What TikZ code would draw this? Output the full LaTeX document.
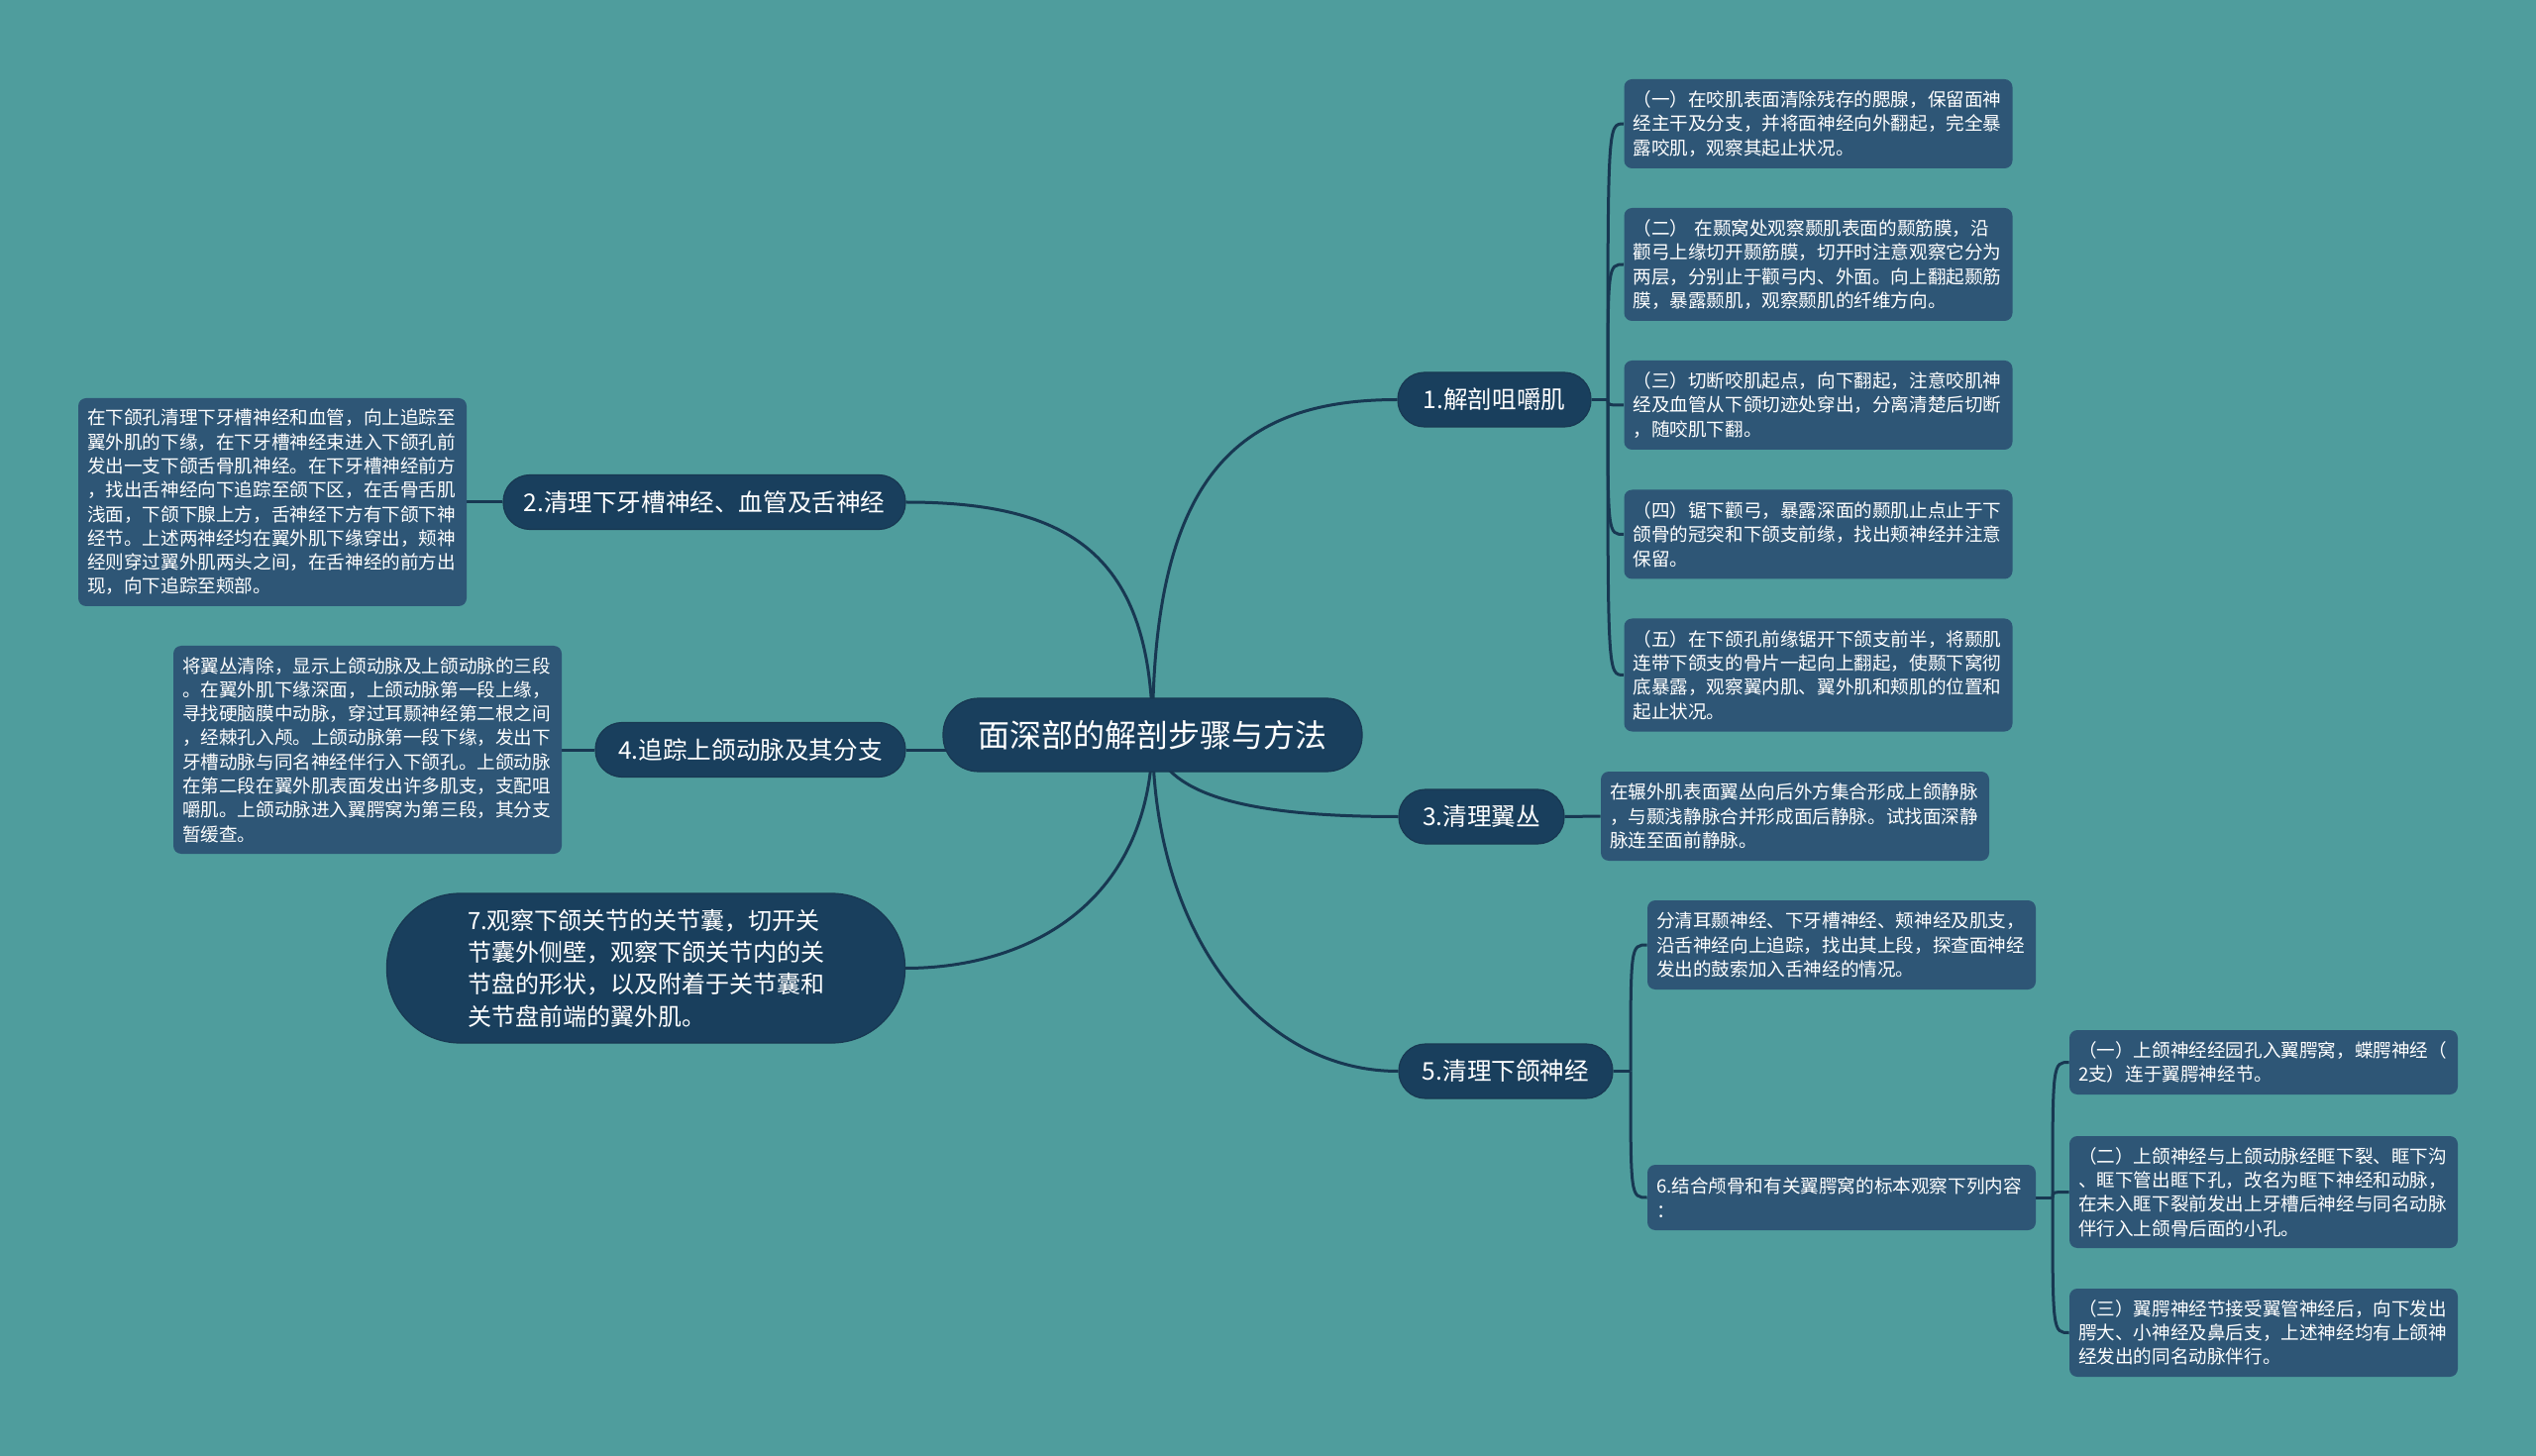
\documentclass[tikz,border=0pt]{standalone}
\usepackage{fontspec}
\setmainfont{Noto Sans CJK SC}
\usetikzlibrary{backgrounds}
\definecolor{bgc}{RGB}{79,157,157}
\definecolor{boxc}{RGB}{46,86,118}
\definecolor{nodec}{RGB}{25,63,93}
\definecolor{linec}{RGB}{24,56,82}
\begin{document}
\begin{tikzpicture}[x=0.5pt,y=-0.5pt,
  mainnode/.style={fill=nodec, draw=linec, line width=0.6pt, text=white, inner sep=0pt, align=center, font=\fontsize{12.3}{16}\selectfont, minimum height=27.5pt, rounded corners=13.5pt},
  rootnode/.style={fill=nodec, draw=linec, line width=0.6pt, text=white, inner sep=0pt, font=\fontsize{16}{20}\selectfont, minimum width=211.5pt, minimum height=37pt, rounded corners=18pt},
  tbox/.style={fill=boxc, text=white, rounded corners=4pt, align=left, text width=187pt, inner xsep=4.5pt, inner ysep=0pt, font=\fontsize{9.3}{12.15}\selectfont},
  conn/.style={draw=linec, line width=1.5pt}]
\useasboundingbox (0,0) rectangle (2560,1470);

% root and main nodes
\node[rootnode] (root) at (1163.5,742) {面深部的解剖步骤与方法};
\node[mainnode, minimum width=97.5pt] (n1) at (1508.5,403.5) {1.解剖咀嚼肌};
\node[mainnode, minimum width=203pt] (n2) at (711,507) {2.清理下牙槽神经、血管及舌神经};
\node[mainnode, minimum width=83.5pt] (n3) at (1495.5,824.5) {3.清理翼丛};
\node[mainnode, minimum width=156.5pt] (n4) at (757.5,757) {4.追踪上颌动脉及其分支};
\node[mainnode, minimum width=108pt] (n5) at (1520,1081.5) {5.清理下颌神经};
\node[mainnode, minimum width=261.5pt, minimum height=75.5pt, rounded corners=37pt, align=left, font=\fontsize{12}{16.2}\selectfont] (n7) at (652,977.5) {7.观察下颌关节的关节囊，切开关\\节囊外侧壁，观察下颌关节内的关\\节盘的形状，以及附着于关节囊和\\关节盘前端的翼外肌。};

% text boxes of 1
\node[tbox, minimum height=45pt] (r1a) at (1835.5,125) {（一）在咬肌表面清除残存的腮腺，保留面神\\经主干及分支，并将面神经向外翻起，完全暴\\露咬肌，观察其起止状况。};
\node[tbox, minimum height=57pt] (r1b) at (1835.5,267) {（二）~在颞窝处观察颞肌表面的颞筋膜，沿\\颧弓上缘切开颞筋膜，切开时注意观察它分为\\两层，分别止于颧弓内、外面。向上翻起颞筋\\膜，暴露颞肌，观察颞肌的纤维方向。};
\node[tbox, minimum height=45pt] (r1c) at (1835.5,409) {（三）切断咬肌起点，向下翻起，注意咬肌神\\经及血管从下颌切迹处穿出，分离清楚后切断\\，随咬肌下翻。};
\node[tbox, minimum height=45pt] (r1d) at (1835.5,539.5) {（四）锯下颧弓，暴露深面的颞肌止点止于下\\颌骨的冠突和下颌支前缘，找出颊神经并注意\\保留。};
\node[tbox, minimum height=57pt] (r1e) at (1835.5,681.5) {（五）在下颌孔前缘锯开下颌支前半，将颞肌\\连带下颌支的骨片一起向上翻起，使颞下窝彻\\底暴露，观察翼内肌、翼外肌和颊肌的位置和\\起止状况。};

% text box of 3
\node[tbox, minimum height=45pt] (r3) at (1812,824) {在辗外肌表面翼丛向后外方集合形成上颌静脉\\，与颞浅静脉合并形成面后静脉。试找面深静\\脉连至面前静脉。};

% text boxes of 5
\node[tbox, minimum height=45pt] (r5a) at (1859,954) {分清耳颞神经、下牙槽神经、颊神经及肌支，\\沿舌神经向上追踪，找出其上段，探查面神经\\发出的鼓索加入舌神经的情况。};
\node[tbox, minimum height=33pt] (r6) at (1859,1209) {6.结合颅骨和有关翼腭窝的标本观察下列内容\\：};
\node[tbox, minimum height=32.5pt] (r6a) at (2285,1072.5) {（一）上颌神经经园孔入翼腭窝，蝶腭神经（\\2支）连于翼腭神经节。};
\node[tbox, minimum height=56.5pt] (r6b) at (2285,1203.5) {（二）上颌神经与上颌动脉经眶下裂、眶下沟\\、眶下管出眶下孔，改名为眶下神经和动脉，\\在未入眶下裂前发出上牙槽后神经与同名动脉\\伴行入上颌骨后面的小孔。};
\node[tbox, minimum height=44.5pt] (r6c) at (2285,1345.5) {（三）翼腭神经节接受翼管神经后，向下发出\\腭大、小神经及鼻后支，上述神经均有上颌神\\经发出的同名动脉伴行。};

% left text boxes
\node[tbox, minimum height=105pt] (l2) at (275,507) {在下颌孔清理下牙槽神经和血管，向上追踪至\\翼外肌的下缘，在下牙槽神经束进入下颌孔前\\发出一支下颌舌骨肌神经。在下牙槽神经前方\\，找出舌神经向下追踪至颌下区，在舌骨舌肌\\浅面，下颌下腺上方，舌神经下方有下颌下神\\经节。上述两神经均在翼外肌下缘穿出，颊神\\经则穿过翼外肌两头之间，在舌神经的前方出\\现，向下追踪至颊部。};
\node[tbox, minimum height=105pt] (l4) at (371,757) {将翼丛清除，显示上颌动脉及上颌动脉的三段\\。在翼外肌下缘深面，上颌动脉第一段上缘，\\寻找硬脑膜中动脉，穿过耳颞神经第二根之间\\，经棘孔入颅。上颌动脉第一段下缘，发出下\\牙槽动脉与同名神经伴行入下颌孔。上颌动脉\\在第二段在翼外肌表面发出许多肌支，支配咀\\嚼肌。上颌动脉进入翼腭窝为第三段，其分支\\暂缓查。};

\coordinate (t1) at (1623,403.5);
\coordinate (t5) at (1646,1081.5);
\coordinate (t6) at (2072,1209);
\coordinate (r4) at (1163,757);

\begin{scope}[on background layer]
\fill[bgc] (0,0) rectangle (2560,1470);
% root connectors
\draw[conn] (root.center) .. controls (1163,480) and (1250,403.5) .. (n1.west);
\draw[conn] (root.center) .. controls (1163,560) and (1080,507) .. (n2.east);
\draw[conn] (root.center) .. controls (1170,800) and (1250,824.5) .. (n3.west);
\draw[conn] (r4) -- (n4.east);
\draw[conn] (root.center) .. controls (1163,940) and (1270,1081.5) .. (n5.west);
\draw[conn] (root.center) .. controls (1163,910) and (1040,977.5) .. (n7.east);
% 1 children
\draw[conn] (n1.east) -- (t1);
\foreach \c in {r1a,r1b,r1c,r1d,r1e}
  \draw[conn] (t1) .. controls (t1 |- \c.west) .. (\c.west);
% 3
\draw[conn] (n3.east) -- (r3.west);
% 5 children
\draw[conn] (n5.east) -- (t5);
\foreach \c in {r5a,r6}
  \draw[conn] (t5) .. controls (t5 |- \c.west) .. (\c.west);
% 6 children
\draw[conn] (r6.east) -- (t6);
\foreach \c in {r6a,r6b,r6c}
  \draw[conn] (t6) .. controls (t6 |- \c.west) .. (\c.west);
% left
\draw[conn] (n2.west) -- (l2.east);
\draw[conn] (n4.west) -- (l4.east);
\end{scope}
\end{tikzpicture}
\end{document}
